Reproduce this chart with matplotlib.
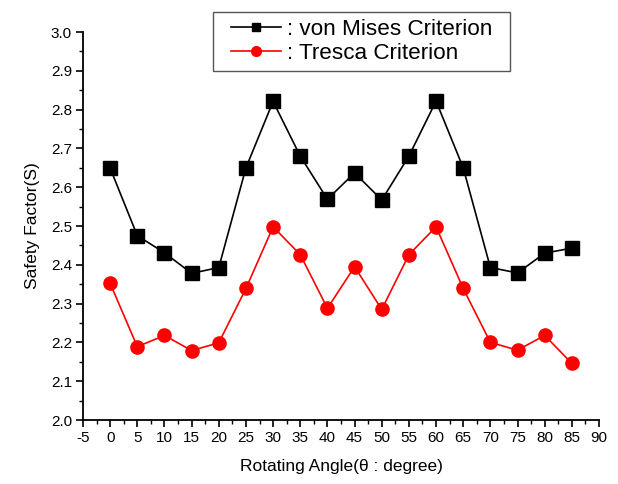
import matplotlib
matplotlib.use("Agg")
import matplotlib.pyplot as plt
from matplotlib.lines import Line2D
from matplotlib.patches import Rectangle
from matplotlib.ticker import MultipleLocator

plt.rcParams["font.family"] = ["Liberation Sans", "DejaVu Sans"]
plt.rcParams["axes.unicode_minus"] = False

angles = [0, 5, 10, 15, 20, 25, 30, 35, 40, 45, 50, 55, 60, 65, 70, 75, 80, 85]
von_mises = [2.649, 2.475, 2.431, 2.378, 2.393, 2.650, 2.821, 2.680, 2.569, 2.637,
             2.567, 2.680, 2.822, 2.650, 2.393, 2.379, 2.430, 2.443]
tresca = [2.352, 2.189, 2.218, 2.179, 2.199, 2.339, 2.498, 2.426, 2.288, 2.395,
          2.285, 2.426, 2.498, 2.339, 2.200, 2.180, 2.218, 2.146]
x_ticks = list(range(-5, 95, 5))
y_ticks = [2.0, 2.1, 2.2, 2.3, 2.4, 2.5, 2.6, 2.7, 2.8, 2.9, 3.0]

W, H = 618, 484
fig = plt.figure(figsize=(W / 100, H / 100), dpi=100)
ax = fig.add_axes([83 / W, 1 - 420 / H, (599 - 83) / W, (420 - 32) / H])

ax.plot(angles, von_mises, color="black", lw=1.2, marker="s", ms=10, mec="black")
ax.plot(angles, tresca, color="#ff0000", lw=1.2, marker="o", ms=9.5, mec="#ff0000")

ax.set_xlim(-5, 90)
ax.set_ylim(2.0, 3.0)
ax.set_xticks(x_ticks)
ax.set_xticklabels([str(v) for v in x_ticks])
ax.set_yticks(y_ticks)
ax.set_yticklabels([f"{v:.1f}" for v in y_ticks])
ax.xaxis.set_minor_locator(MultipleLocator(2.5))
ax.yaxis.set_minor_locator(MultipleLocator(0.05))
ax.tick_params(which="major", direction="out", length=5, width=1.2, labelsize=11, pad=3)
ax.tick_params(which="minor", direction="out", length=3, width=1.0)

for side in ("top", "right"):
    ax.spines[side].set_visible(False)
for side in ("left", "bottom"):
    ax.spines[side].set_linewidth(1.3)

ax.set_xlabel("Rotating Angle(\u03b8 : degree)", fontsize=12.5, labelpad=10)
ax.set_ylabel("Safety Factor(S)", fontsize=12.5, labelpad=8)

# legend frame drawn separately so its width matches the original box
fig.add_artist(Rectangle((213 / W, 1 - 71 / H), (510 - 213) / W, (71 - 12) / H,
                         transform=fig.transFigure, facecolor="white",
                         edgecolor="#555555", lw=1.0, zorder=5))
handles = [
    Line2D([], [], color="black", lw=1.2, marker="s", ms=6),
    Line2D([], [], color="#ff0000", lw=1.2, marker="o", ms=7),
]
leg = fig.legend(handles, [": von Mises Criterion", ": Tresca Criterion"],
                 loc="center left", bbox_to_anchor=(231 / W, 1 - 41.5 / H),
                 fontsize=16.2, frameon=False, handlelength=2.2,
                 handletextpad=0.3, borderpad=0, labelspacing=0.15, borderaxespad=0)
leg.set_zorder(6)

fig.savefig("out.png", dpi=100)
